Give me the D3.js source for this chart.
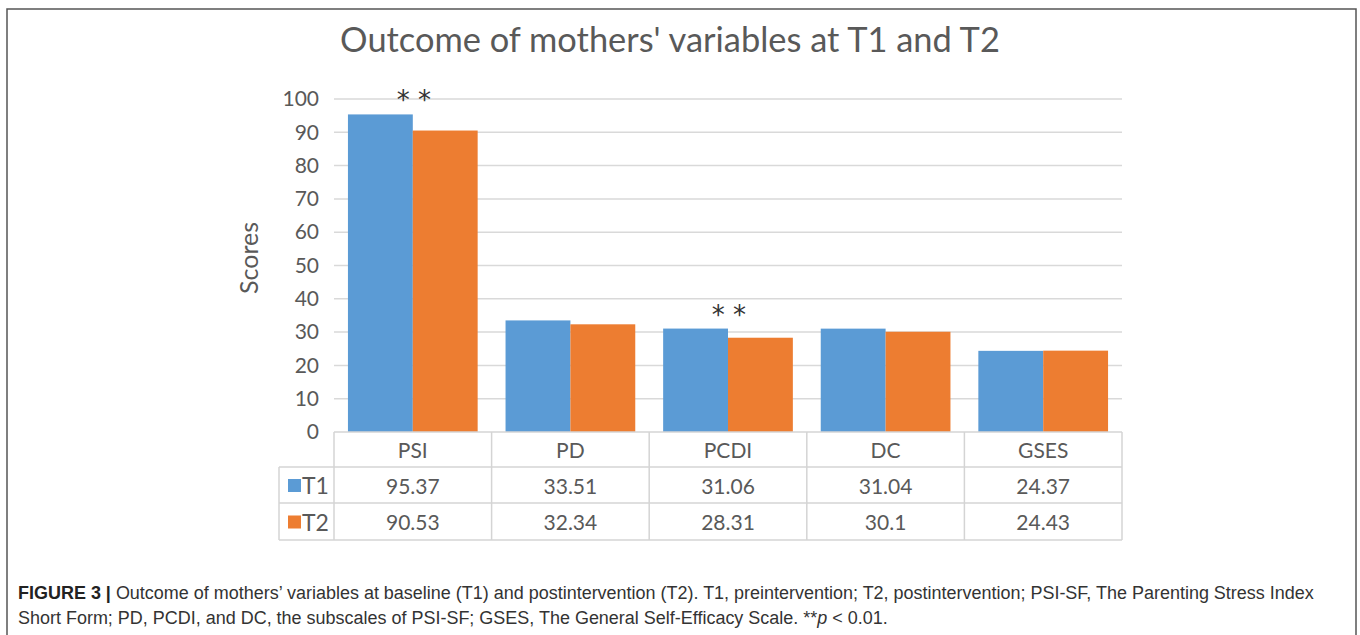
<!DOCTYPE html>
<html><head><meta charset="utf-8">
<script src="https://cdn.jsdelivr.net/npm/d3@7"></script>
<style>html,body{margin:0;padding:0;background:#fff;}</style>
</head><body>
<svg id="c" width="1360" height="635"></svg>
<script>
const categories = ["PSI","PD","PCDI","DC","GSES"];
const seriesNames = ["T1","T2"];
const t1Values = [95.37,33.51,31.06,31.04,24.37];
const t2Values = [90.53,32.34,28.31,30.1,24.43];
const t1Labels = ["95.37","33.51","31.06","31.04","24.37"];
const t2Labels = ["90.53","32.34","28.31","30.1","24.43"];
const yTicks = [0,10,20,30,40,50,60,70,80,90,100];
const significant = ["PSI","PCDI"];

const colors = {T1:"#5b9bd5", T2:"#ed7d31"};
const gray = "#595959", grid = "#d9d9d9", tbl = "#d4d4d4";
const font = "Lato, 'Open Sans', sans-serif";
const capFont = "'Liberation Sans Narrow', 'Liberation Sans', Arial, sans-serif";

const svg = d3.select("#c");
svg.append("path").attr("d","M7,640 V9 H1356 V640").attr("fill","none").attr("stroke","#555").attr("stroke-width",1.5);

function fitText(sel, w){ const n=sel.node(); const l=n.getComputedTextLength(); const fs=parseFloat(sel.attr("font-size")); sel.attr("font-size", fs*w/l); }

const title = svg.append("text").attr("x",670).attr("y",52).attr("text-anchor","middle")
  .attr("font-family",font).attr("font-size",30).attr("fill",gray)
  .text("Outcome of mothers' variables at T1 and T2");
fitText(title, 660);

const x0 = 334, x1 = 1122;
const y = d3.scaleLinear().domain([0,100]).range([432,99]);
const x = d3.scaleBand().domain(categories).range([x0,x1]).paddingInner(0).paddingOuter(0);
const xs = d3.scaleBand().domain(seriesNames).range([0, x.bandwidth()]).paddingInner(0).paddingOuter(0.215);

svg.append("g").selectAll("line").data(yTicks.filter(d=>d>0)).join("line")
  .attr("x1",x0).attr("x2",x1).attr("y1",d=>y(d)).attr("y2",d=>y(d))
  .attr("stroke",grid).attr("stroke-width",1.5);

const yAxis = d3.axisLeft(y).tickValues(yTicks).tickSize(0).tickPadding(0);
const ga = svg.append("g").attr("transform","translate(319,0)").call(yAxis);
ga.select(".domain").remove();
ga.selectAll("text").attr("font-family",font).attr("font-size",21).attr("fill",gray);

svg.append("text").attr("transform","translate(258,258) rotate(-90)").attr("text-anchor","middle")
  .attr("font-family",font).attr("font-size",25).attr("fill",gray).text("Scores");

const data = categories.map((c,i)=>({cat:c, T1:t1Values[i], T2:t2Values[i]}));
const g = svg.append("g");
data.forEach(d=>{
  seriesNames.forEach(s=>{
    g.append("rect").attr("x",x(d.cat)+xs(s)).attr("width",xs.bandwidth())
      .attr("y",y(d[s])).attr("height",y(0)-y(d[s])).attr("fill",colors[s]);
  });
});
data.filter(d=>significant.includes(d.cat)).forEach(d=>{
  svg.append("text").attr("x",x(d.cat)+x.bandwidth()/2+1).attr("y",y(Math.max(d.T1,d.T2))-5)
    .attr("text-anchor","middle").attr("font-family","'DejaVu Sans', sans-serif").attr("font-size",26)
    .attr("fill","#333").text("* *");
});

const rowY = [432,467,503,540];
const legX = 279;
const tg = svg.append("g").attr("stroke",tbl).attr("stroke-width",1.5);
tg.append("line").attr("x1",x0).attr("x2",x1).attr("y1",rowY[0]).attr("y2",rowY[0]);
[1,2,3].forEach(i=>tg.append("line").attr("x1",legX).attr("x2",x1).attr("y1",rowY[i]).attr("y2",rowY[i]));
x.domain().forEach(c=>tg.append("line").attr("x1",x(c)).attr("x2",x(c)).attr("y1",rowY[0]).attr("y2",rowY[3]));
tg.append("line").attr("x1",x1).attr("x2",x1).attr("y1",rowY[0]).attr("y2",rowY[3]);
tg.append("line").attr("x1",legX).attr("x2",legX).attr("y1",rowY[1]).attr("y2",rowY[3]);

const txt = (xx,yy,t,anchor,fs)=>svg.append("text").attr("x",xx).attr("y",yy).attr("text-anchor",anchor||"middle")
  .attr("dominant-baseline","central").attr("font-family",font).attr("font-size",fs||21).attr("fill",gray).text(t);
categories.forEach((c,i)=>{
  const cx = x(c)+x.bandwidth()/2;
  txt(cx,(rowY[0]+rowY[1])/2,c);
  txt(cx,(rowY[1]+rowY[2])/2,t1Labels[i]);
  txt(cx,(rowY[2]+rowY[3])/2,t2Labels[i]);
});
seriesNames.forEach((s,i)=>{
  const cy = (rowY[i+1]+rowY[i+2])/2;
  svg.append("rect").attr("x",288).attr("y",cy-6).attr("width",13).attr("height",13).attr("fill",colors[s]);
  txt(302,cy,s,"start",23);
});

const cap1 = svg.append("text").attr("x",18).attr("y",599).attr("font-family",capFont).attr("font-size",17).attr("fill","#333");
cap1.append("tspan").attr("font-weight","bold").attr("fill","#222").text("FIGURE 3 | ");
cap1.append("tspan").text("Outcome of mothers’ variables at baseline (T1) and postintervention (T2). T1, preintervention; T2, postintervention; PSI-SF, The Parenting Stress Index");
fitText(cap1, 1296);
const fs = cap1.attr("font-size");
const cap2 = svg.append("text").attr("x",18).attr("y",624).attr("font-family",capFont).attr("font-size",fs).attr("fill","#333");
cap2.append("tspan").text("Short Form; PD, PCDI, and DC, the subscales of PSI-SF; GSES, The General Self-Efficacy Scale. **");
cap2.append("tspan").attr("font-style","italic").text("p");
cap2.append("tspan").text(" < 0.01.");
</script>
</body></html>
